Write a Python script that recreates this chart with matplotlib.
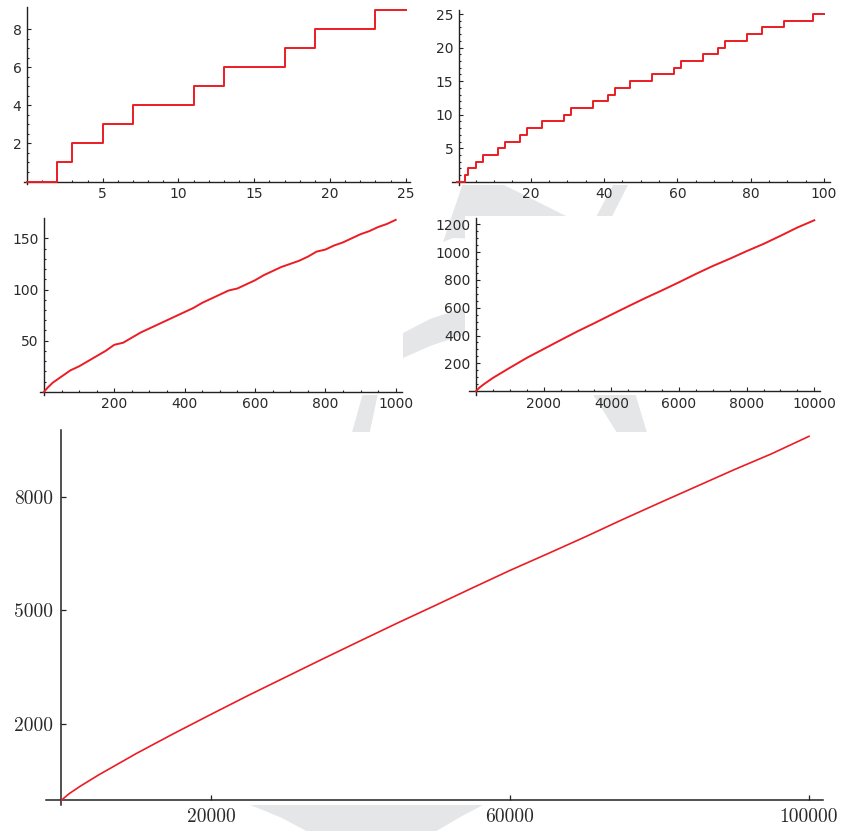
import numpy as np
import matplotlib
matplotlib.use("Agg")
import matplotlib.pyplot as plt
from matplotlib.patches import Polygon
from matplotlib.ticker import FixedLocator

# ---------------- data ----------------
primes_to_100 = [2, 3, 5, 7, 11, 13, 17, 19, 23, 29, 31, 37, 41, 43, 47, 53, 59,
                 61, 67, 71, 73, 79, 83, 89, 97]
counts_to_100 = [1, 2, 3, 4, 5, 6, 7, 8, 9, 10, 11, 12, 13, 14, 15, 16, 17,
                 18, 19, 20, 21, 22, 23, 24, 25]

x_1000 = [0, 10, 25, 50, 75, 100, 125, 150, 175, 200, 225, 250, 275, 300, 325, 350,
          375, 400, 425, 450, 475, 500, 525, 550, 575, 600, 625, 650, 675, 700,
          725, 750, 775, 800, 825, 850, 875, 900, 925, 950, 975, 1000]
y_1000 = [0, 4, 9, 15, 21, 25, 30, 35, 40, 46, 48, 53, 58, 62, 66, 70,
          74, 78, 82, 87, 91, 95, 99, 101, 105, 109, 114, 118, 122, 125,
          128, 132, 137, 139, 143, 146, 150, 154, 157, 161, 164, 168]

x_10000 = [0, 100, 250, 500, 1000, 1500, 2000, 2500, 3000, 3500, 4000, 4500, 5000,
           5500, 6000, 6500, 7000, 7500, 8000, 8500, 9000, 9500, 10000]
y_10000 = [0, 25, 53, 95, 168, 239, 303, 367, 430, 489, 550, 610, 669,
           725, 783, 843, 900, 952, 1007, 1059, 1117, 1177, 1229]

x_100000 = [0, 1000, 2500, 5000, 10000, 15000, 20000, 25000, 30000, 35000, 40000,
            45000, 50000, 55000, 60000, 65000, 70000, 75000, 80000, 85000, 90000,
            95000, 100000]
y_100000 = [0, 168, 367, 669, 1229, 1754, 2262, 2762, 3245, 3728, 4203,
            4675, 5133, 5598, 6057, 6493, 6935, 7393, 7837, 8275, 8713,
            9132, 9592]

ticks1_x = [5, 10, 15, 20, 25]
ticks1_y = [2, 4, 6, 8]
ticks2_x = [20, 40, 60, 80, 100]
ticks2_y = [5, 10, 15, 20, 25]
ticks3_x = [200, 400, 600, 800, 1000]
ticks3_y = [50, 100, 150]
ticks4_x = [2000, 4000, 6000, 8000, 10000]
ticks4_y = [200, 400, 600, 800, 1000, 1200]
ticks5_x = [20000, 60000, 100000]
ticks5_y = [2000, 5000, 8000]

# ---------------- layout ----------------
W, H = 845, 831
fig = plt.figure(figsize=(W / 100, H / 100), dpi=100)
fig.patch.set_facecolor("white")

RED = "#ec1c24"
INK = "#222222"
TXT = "#2a2a2a"
WM = "#e5e6e8"

# watermark pieces (pixel coords), drawn behind the panels
wm_polys = [
    [(463, 183), (500, 183), (620, 243), (453, 238), (443, 242)],
    [(614, 183), (629, 183), (600, 240), (584, 240)],
    [(392, 345), (403, 333), (430, 319), (457, 310), (472, 306), (472, 334),
     (457, 337), (430, 346), (403, 358), (392, 366)],
    [(363, 393), (378, 393), (369, 436), (351, 436)],
    [(592, 393), (635, 393), (648, 436), (619, 436)],
    [(248, 804), (485, 804), (462, 816), (433, 833), (310, 833), (282, 818)],
]
for poly in wm_polys:
    pts = [(x / W, 1 - y / H) for x, y in poly]
    fig.patches.append(Polygon(pts, closed=True, transform=fig.transFigure,
                               facecolor=WM, edgecolor="none", zorder=-5))


def make_axes(rect, xmap, ymap, yaxis_px, xaxis_px, xb_px, yb_px):
    x0, y0, x1, y1 = rect
    ax = fig.add_axes([x0 / W, 1 - y1 / H, (x1 - x0) / W, (y1 - y0) / H])
    ax.set_facecolor("white")
    (dA, pA), (dB, pB) = xmap
    sx = (pB - pA) / (dB - dA)
    fx = lambda p: dA + (p - pA) / sx
    (eA, qA), (eB, qB) = ymap
    sy = (qB - qA) / (eB - eA)
    fy = lambda p: eA + (p - qA) / sy
    ax.set_xlim(fx(x0), fx(x1))
    ax.set_ylim(fy(y1), fy(y0))
    for s in ("top", "right"):
        ax.spines[s].set_visible(False)
    ax.spines["left"].set_position(("data", fx(yaxis_px)))
    ax.spines["bottom"].set_position(("data", fy(xaxis_px)))
    ax.spines["left"].set_bounds(fy(yb_px[0]), fy(yb_px[1]))
    ax.spines["bottom"].set_bounds(fx(xb_px[0]), fx(xb_px[1]))
    for s in ("left", "bottom"):
        ax.spines[s].set_color(INK)
        ax.spines[s].set_linewidth(1.0)
        ax.spines[s].set_zorder(1)
    return ax


def style_sans(ax, xt, yt, xminor, yminor):
    ax.xaxis.set_major_locator(FixedLocator(xt))
    ax.yaxis.set_major_locator(FixedLocator(yt))
    ax.xaxis.set_minor_locator(FixedLocator(np.arange(xminor, xt[-1] + xminor / 2, xminor)))
    ax.yaxis.set_minor_locator(FixedLocator(np.arange(yminor, yt[-1] + yminor / 2, yminor)))
    ax.tick_params(which="both", direction="in", color=INK, width=0.8)
    ax.tick_params(which="major", length=3.0, labelsize=10, labelcolor=TXT, pad=4)
    ax.tick_params(which="minor", length=1.5)
    for lab in ax.get_xticklabels() + ax.get_yticklabels():
        lab.set_fontfamily("DejaVu Sans")


# panel 1: 0..25
ax1 = make_axes((3, 3, 416, 186), ((0, 27), (25, 405.7)), ((0, 181.5), (8, 29.3)),
                27, 181.5, (24, 410), (184, 7))
p1 = [p for p in primes_to_100 if p <= 25]
c1 = counts_to_100[:len(p1)]
ax1.step([0] + p1 + [25], [0] + c1 + [c1[-1]], where="post", color=RED, lw=1.4,
         clip_on=False, zorder=3)
style_sans(ax1, ticks1_x, ticks1_y, 1, 0.5)

# panel 2: 0..100
ax2 = make_axes((440, 3, 840, 185), ((20, 530.7), (100, 824)), ((5, 148.3), (25, 14)),
                459, 181.7, (452, 830), (185, 10))
ax2.step([0] + primes_to_100 + [100], [0] + counts_to_100 + [counts_to_100[-1]],
         where="post", color=RED, lw=1.4, clip_on=False, zorder=3)
style_sans(ax2, ticks2_x, ticks2_y, 5, 1)

# panel 3: 0..1000
ax3 = make_axes((3, 205, 403, 395), ((200, 114.3), (1000, 395.7)), ((50, 340.7), (150, 238.3)),
                44, 391.8, (40, 402), (395, 218))
ax3.plot(x_1000, y_1000, color=RED, lw=1.4, clip_on=False, zorder=3)
style_sans(ax3, ticks3_x, ticks3_y, 50, 10)

# panel 4: 0..10000
ax4 = make_axes((465, 216, 840, 395), ((2000, 543.7), (10000, 814.3)), ((200, 363.3), (1200, 224.3)),
                475.7, 391, (469, 820), (395, 218))
ax4.plot(x_10000, y_10000, color=RED, lw=1.4, clip_on=False, zorder=3)
style_sans(ax4, ticks4_x, ticks4_y, 500, 50)

# panel 5: 0..100000 (serif)
ax5 = make_axes((3, 432, 842, 805), ((20000, 211), (100000, 809)), ((2000, 724.3), (8000, 496.7)),
                61.5, 800, (46, 823), (805, 430))
ax5.plot(x_100000, y_100000, color=RED, lw=1.2, clip_on=False, zorder=3)
ax5.xaxis.set_major_locator(FixedLocator(ticks5_x))
ax5.yaxis.set_major_locator(FixedLocator(ticks5_y))
ax5.tick_params(which="major", direction="in", length=3.8, width=0.9, color=INK,
                labelsize=14, labelcolor=TXT, pad=6)
for lab in ax5.get_xticklabels() + ax5.get_yticklabels():
    lab.set_fontfamily("cmr10")
for s in ("left", "bottom"):
    ax5.spines[s].set_linewidth(1.1)

fig.savefig("out.png", dpi=100, facecolor="white")
